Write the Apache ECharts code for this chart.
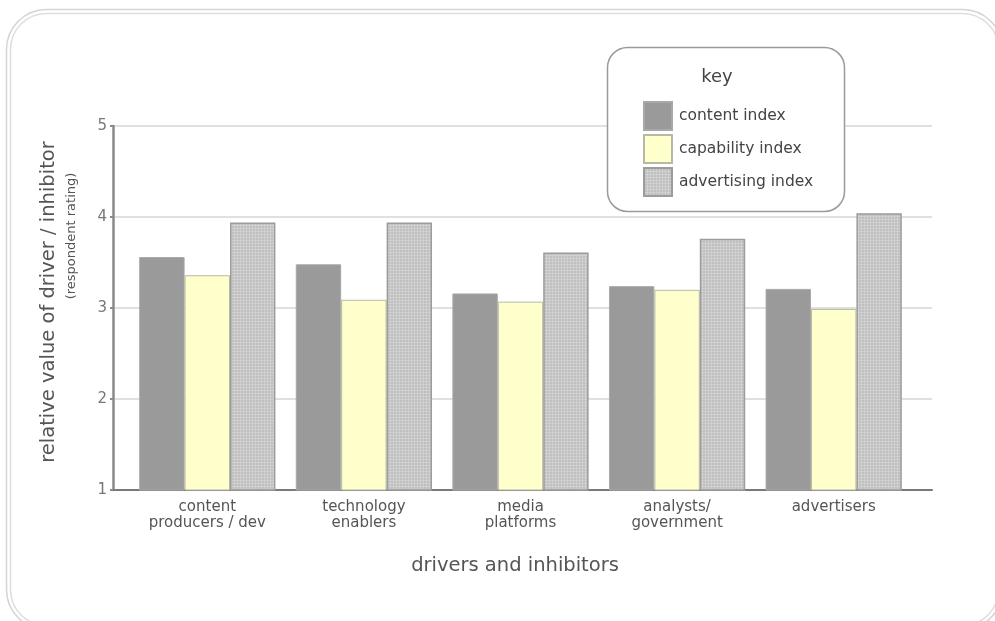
<!DOCTYPE html>
<html>
<head>
<meta charset="utf-8">
<script src="https://cdn.jsdelivr.net/npm/echarts@6/dist/echarts.min.js"></script>
<style>
  html, body { margin: 0; padding: 0; background: #ffffff; }
  #chart { width: 995px; height: 621px; }
</style>
</head>
<body>
<div id="chart"></div>
<script>
// Categories along the x axis
const categories = [
  'content\nproducers / dev',
  'technology\nenablers',
  'media\nplatforms',
  'analysts/\ngovernment',
  'advertisers'
];

// Series names (shown in the key)
const seriesNames = ['content index', 'capability index', 'advertising index'];

// Respondent ratings per index
const contentIndex     = [3.56, 3.48, 3.16, 3.24, 3.21];
const capabilityIndex  = [3.36, 3.09, 3.07, 3.20, 2.99];
const advertisingIndex = [3.94, 3.94, 3.61, 3.76, 4.04];

// Value axis ticks
const yTicks = [1, 2, 3, 4, 5];

const FONT = '"DejaVu Sans", Verdana, sans-serif';

// Fine dotted texture for the advertising bars
function makeDotPattern() {
  const c = document.createElement('canvas');
  c.width = 3; c.height = 3;
  const g = c.getContext('2d');
  g.fillStyle = '#bfbfbf';
  g.fillRect(0, 0, 3, 3);
  g.fillStyle = '#d0d0d0';
  g.fillRect(0, 0, 3, 1);
  g.fillRect(0, 0, 1, 3);
  return { image: c, repeat: 'repeat' };
}
const dotPattern = makeDotPattern();

const chart = echarts.init(document.getElementById('chart'), null, { renderer: 'canvas' });

const yMin = yTicks[0];
const yMax = yTicks[yTicks.length - 1];

const option = {
  backgroundColor: '#ffffff',
  animation: false,
  grid: [
    // frame grid: axis lines, gridlines and tick labels
    { left: 113, right: 63, top: 126, bottom: 131 },
    // bar grid
    { left: 129, right: 83, top: 126, bottom: 131 }
  ],
  xAxis: [
    {
      gridIndex: 0, type: 'value', min: 0, max: 1,
      axisLine: { show: true, lineStyle: { color: '#7a7a7a', width: 2 } },
      axisTick: { show: false }, axisLabel: { show: false }, splitLine: { show: false }
    },
    {
      gridIndex: 1, type: 'category', data: categories,
      axisLine: { show: false }, axisTick: { show: false },
      axisLabel: {
        margin: 9, color: '#555', fontFamily: FONT, fontSize: 15, lineHeight: 16,
        interval: 0
      }
    }
  ],
  yAxis: [
    {
      gridIndex: 0, type: 'value', min: yMin, max: yMax, interval: 1,
      axisLine: { show: true, lineStyle: { color: '#8a8a8a', width: 2.5 } },
      axisTick: { show: true, length: 3, lineStyle: { color: '#8a8a8a', width: 2 } },
      axisLabel: { margin: 6, color: '#777', fontFamily: FONT, fontSize: 15 },
      splitLine: { show: true, lineStyle: { color: '#d6d6d6', width: 1.5 } }
    },
    {
      gridIndex: 1, type: 'value', min: yMin, max: yMax, interval: 1, show: false
    }
  ],
  legend: {
    data: seriesNames,
    orient: 'vertical',
    left: 643, top: 101,
    z: 20,
    itemWidth: 28, itemHeight: 28, itemGap: 3,
    padding: 0,
    icon: 'rect',
    textStyle: { color: '#444', fontFamily: FONT, fontSize: 15.5, padding: [0, 0, 0, 2] },
    selectedMode: false
  },
  series: [
    {
      name: seriesNames[0], type: 'bar', xAxisIndex: 1, yAxisIndex: 1,
      data: contentIndex, barGap: '0%', barCategoryGap: '13%',
      itemStyle: { color: '#9a9a9a', borderColor: '#a8a8a8', borderWidth: 1 }
    },
    {
      name: seriesNames[1], type: 'bar', xAxisIndex: 1, yAxisIndex: 1,
      data: capabilityIndex, barGap: '0%', barCategoryGap: '13%',
      itemStyle: { color: '#ffffcc', borderColor: '#b8b8a8', borderWidth: 1 }
    },
    {
      name: seriesNames[2], type: 'bar', xAxisIndex: 1, yAxisIndex: 1,
      data: advertisingIndex, barGap: '0%', barCategoryGap: '13%',
      itemStyle: { color: dotPattern, borderColor: '#9c9c9c', borderWidth: 1.5 }
    }
  ],
  graphic: [
    // double rounded outer frame
    { type: 'rect', z: -10, shape: { x: 6.5, y: 9.5, width: 996, height: 620, r: 40 },
      style: { fill: 'none', stroke: '#d4d4d4', lineWidth: 1.5 } },
    { type: 'rect', z: -10, shape: { x: 10.5, y: 13.5, width: 988, height: 612, r: 36 },
      style: { fill: 'none', stroke: '#dedede', lineWidth: 1.5 } },
    // key box
    { type: 'rect', z: 5, shape: { x: 607.5, y: 47.5, width: 237, height: 164, r: 20 },
      style: { fill: '#ffffff', stroke: '#9a9a9a', lineWidth: 1.5 } },
    { type: 'text', z: 6, x: 717, y: 77,
      style: { text: 'key', fill: '#444', font: '18px ' + FONT, align: 'center', verticalAlign: 'middle' } },
    // axis titles
    { type: 'text', z: 6, x: 49, y: 302, rotation: Math.PI / 2,
      style: { text: 'relative value of driver / inhibitor', fill: '#555', font: '19.5px ' + FONT,
               align: 'center', verticalAlign: 'middle' } },
    { type: 'text', z: 6, x: 72, y: 236, rotation: Math.PI / 2,
      style: { text: '(respondent rating)', fill: '#555', font: '13px ' + FONT,
               align: 'center', verticalAlign: 'middle' } },
    { type: 'text', z: 6, x: 515, y: 566,
      style: { text: 'drivers and inhibitors', fill: '#555', font: '19.5px ' + FONT,
               align: 'center', verticalAlign: 'middle' } }
  ]
};

chart.setOption(option);
</script>
</body>
</html>
